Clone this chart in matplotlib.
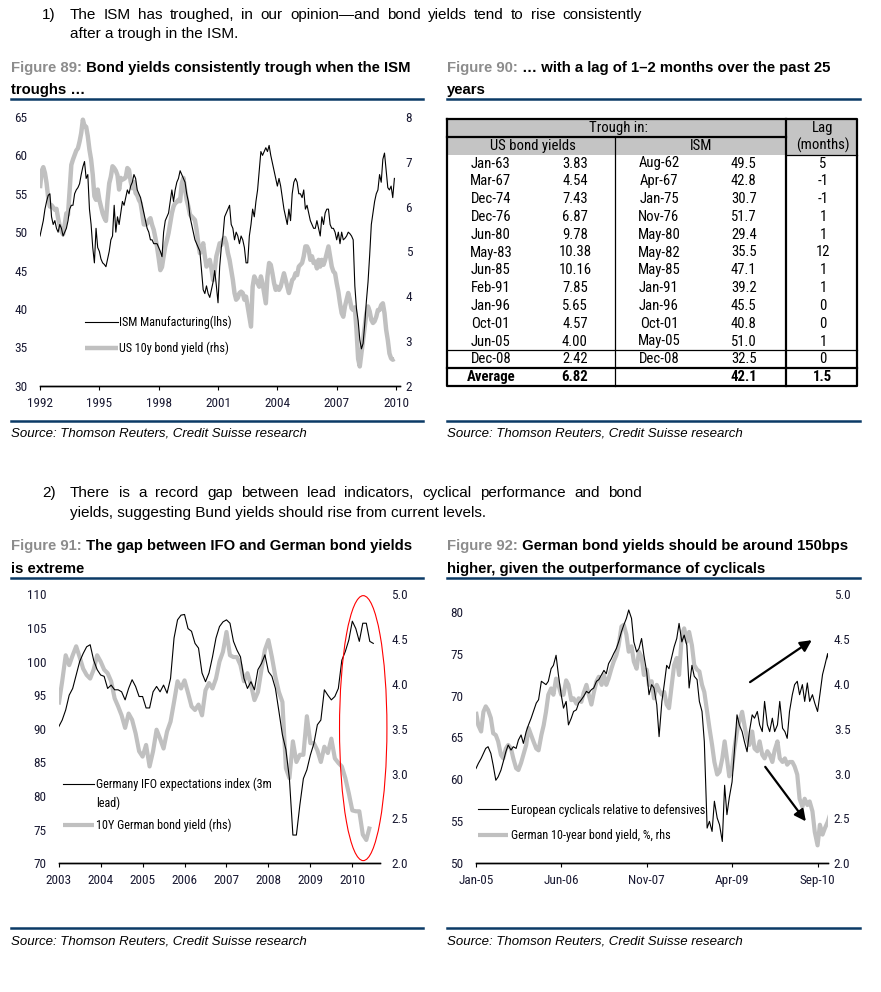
import numpy as np
import pandas as pd
import matplotlib
matplotlib.use('Agg')
import matplotlib.pyplot as plt
import matplotlib.dates as mdates
from matplotlib.patches import Ellipse, Rectangle
from matplotlib.lines import Line2D
from matplotlib import font_manager

# ---------------- data ----------------
# Figure 89: monthly from Jan-1992
ism = [49.5, 50.5, 51.5, 53.0, 54.0, 54.8, 55.0, 52.0, 51.0, 51.5, 50.5, 50.0,
       51.0, 50.5, 49.5, 50.0, 50.5, 51.5, 53.0, 53.5, 53.5, 55.0, 55.5, 55.8,
       56.3, 57.5, 58.5, 59.2, 57.0, 57.5, 53.0, 51.0, 48.0, 46.0, 50.5, 48.0,
       47.5, 46.5, 46.0, 45.8, 45.5, 46.5, 47.5, 49.0, 49.5, 53.5, 50.0, 52.0,
       51.0, 52.5, 54.0, 53.5, 54.5, 55.5, 55.0, 56.0, 56.5, 57.5, 57.0, 55.5,
       55.0, 54.5, 53.5, 52.5, 51.5, 50.5, 50.0, 49.0, 49.0, 48.5, 48.5, 48.5,
       48.0, 47.5, 46.8, 50.0, 51.5, 52.0, 52.5, 54.0, 55.5, 54.0, 55.5, 56.5,
       57.0, 58.0, 57.5, 57.0, 56.5, 55.0, 54.0, 52.0, 51.0, 50.0, 49.0, 48.5,
       48.0, 47.5, 45.0, 42.5, 42.0, 43.0, 42.0, 41.5, 42.5, 43.5, 45.0, 43.0,
       40.8, 45.5, 48.0, 49.5, 52.0, 52.5, 53.0, 53.5, 51.0, 50.5, 49.0, 50.0,
       49.5, 48.5, 49.5, 49.0, 48.0, 46.0, 46.0, 49.5, 51.0, 53.0, 52.0, 54.0,
       55.5, 58.0, 60.5, 60.0, 60.5, 61.0, 60.5, 61.3, 60.0, 59.0, 58.0, 57.0,
       56.0, 57.0, 56.0, 54.5, 53.0, 52.0, 51.0, 53.0, 51.5, 55.0, 56.5, 57.0,
       56.5, 55.0, 55.0, 54.5, 55.5, 53.0, 53.5, 52.5, 51.5, 51.0, 50.5, 50.5,
       51.5, 50.5, 49.5, 52.0, 51.0, 52.5, 53.0, 53.0, 51.0, 50.5, 50.5, 50.0,
       49.0, 50.0, 48.5, 50.0, 49.0, 49.2, 49.5, 50.0, 49.8, 49.5, 49.0, 43.0,
       40.0, 38.5, 36.0, 34.8, 35.5, 38.0, 41.0, 43.5, 47.0, 51.0, 52.5, 54.0,
       55.0, 55.5, 57.5, 56.5, 59.5, 60.3, 58.0, 55.8, 55.5, 56.0, 54.5, 57.0]
us10y = [6.41, 6.79, 6.88, 6.75, 6.52, 6.19, 6.00, 6.03, 5.98, 5.93, 5.95, 5.74,
         5.56, 5.45, 5.38, 5.60, 5.85, 5.82, 6.38, 6.93, 7.05, 7.15, 7.25, 7.30,
         7.45, 7.64, 7.94, 7.80, 7.78, 7.57, 7.27, 7.05, 6.71, 6.23, 6.15, 6.38,
         6.15, 6.00, 5.85, 5.75, 5.68, 6.15, 6.52, 6.67, 6.90, 6.86, 6.80, 6.70,
         6.38, 6.64, 6.60, 6.62, 6.65, 6.86, 6.82, 6.56, 6.41, 6.55, 6.30, 6.25,
         6.15, 6.08, 5.85, 5.60, 5.60, 5.62, 5.70, 5.74, 5.59, 5.48, 5.30, 5.10,
         4.85, 4.58, 4.65, 4.89, 5.11, 5.25, 5.41, 5.63, 5.85, 6.00, 6.08, 6.10,
         6.15, 6.12, 6.52, 6.64, 6.38, 6.15, 6.00, 5.82, 5.78, 5.74, 5.70, 5.48,
         5.18, 4.96, 5.03, 5.18, 4.89, 4.66, 4.74, 4.81, 4.62, 4.36, 4.59, 4.89,
         5.03, 5.18, 5.14, 5.26, 5.30, 5.18, 4.96, 4.81, 4.59, 4.36, 4.07, 3.92,
         3.96, 4.07, 4.10, 4.07, 3.92, 3.99, 3.77, 3.54, 3.32, 4.21, 4.44, 4.36,
         4.29, 4.21, 4.44, 4.29, 4.07, 3.84, 4.44, 4.74, 4.70, 4.51, 4.29, 4.14,
         4.21, 4.14, 4.21, 4.36, 4.51, 4.36, 4.21, 4.07, 4.21, 4.36, 4.40, 4.51,
         4.47, 4.66, 4.70, 4.74, 4.89, 5.11, 5.11, 5.03, 4.81, 4.89, 4.74, 4.77,
         4.62, 4.81, 4.66, 4.81, 4.70, 4.81, 4.96, 5.11, 4.89, 4.66, 4.55, 4.51,
         4.29, 4.10, 3.84, 3.62, 3.54, 3.77, 3.92, 4.07, 3.92, 3.73, 3.69, 3.75,
         3.25, 2.60, 2.43, 2.72, 3.02, 3.32, 3.62, 3.77, 3.66, 3.47, 3.40, 3.44,
         3.54, 3.69, 3.69, 3.80, 3.84, 3.62, 3.25, 3.02, 2.72, 2.61, 2.58, 2.60]
fig89_start = 1992
fig89_ticks = [1992, 1995, 1998, 2001, 2004, 2007, 2010]

# Figure 90 table
us_dates = ['Jan-63', 'Mar-67', 'Dec-74', 'Dec-76', 'Jun-80', 'May-83',
            'Jun-85', 'Feb-91', 'Jan-96', 'Oct-01', 'Jun-05', 'Dec-08']
us_vals = [3.83, 4.54, 7.43, 6.87, 9.78, 10.38, 10.16, 7.85, 5.65, 4.57, 4.00, 2.42]
ism_dates = ['Aug-62', 'Apr-67', 'Jan-75', 'Nov-76', 'May-80', 'May-82',
             'May-85', 'Jan-91', 'Jan-96', 'Oct-01', 'May-05', 'Dec-08']
ism_vals = [49.5, 42.8, 30.7, 51.7, 29.4, 35.5, 47.1, 39.2, 45.5, 40.8, 51.0, 32.5]
lags = [5, -1, -1, 1, 1, 12, 1, 1, 0, 0, 1, 0]
avg_us, avg_ism, avg_lag = 6.82, 42.1, 1.5

# Figure 91: monthly from Jan-2003
ifo = [90.3, 91.3, 92.8, 95.0, 96.0, 98.0, 100.0, 101.2, 102.2, 102.5, 100.2, 98.8,
       98.0, 97.8, 96.0, 96.5, 95.8, 95.8, 95.5, 94.3, 96.0, 97.3, 96.3, 94.8,
       94.8, 93.1, 93.1, 95.5, 96.3, 95.5, 96.5, 95.3, 97.5, 103.5, 106.2, 106.9,
       107.0, 104.9, 104.5, 102.7, 102.0, 98.3, 97.0, 98.3, 100.7, 103.5, 105.2, 105.9,
       106.2, 105.7, 103.0, 101.7, 100.7, 97.5, 96.0, 97.0, 95.8, 98.8, 99.7, 101.0,
       98.5, 97.8, 96.0, 92.6, 89.1, 86.9, 82.6, 74.2, 74.2, 78.7, 82.6, 83.9,
       86.1, 87.8, 90.6, 91.3, 95.8, 95.0, 94.3, 94.8, 96.0, 100.2, 101.5, 103.2,
       106.0, 104.9, 103.0, 105.7, 105.7, 103.0, 102.7]
bund91 = [3.77, 4.03, 4.32, 4.21, 4.32, 4.42, 4.30, 4.17, 4.10, 4.06, 4.16, 4.32,
          4.25, 4.16, 4.12, 4.03, 3.84, 3.75, 3.65, 3.51, 3.67, 3.60, 3.45, 3.25,
          3.19, 3.32, 3.08, 3.25, 3.49, 3.39, 3.28, 3.47, 3.58, 3.80, 4.03, 3.95,
          4.04, 3.90, 3.75, 3.71, 3.77, 3.65, 3.93, 4.01, 3.95, 4.06, 4.25, 4.36,
          4.58, 4.32, 4.30, 4.30, 4.21, 4.03, 4.12, 3.99, 3.82, 3.91, 4.16, 4.38,
          4.49, 4.30, 4.08, 3.91, 3.80, 3.06, 2.95, 3.36, 3.13, 3.21, 3.21, 3.64,
          3.34, 3.34, 3.26, 3.13, 3.30, 3.23, 3.39, 3.17, 3.12, 3.08, 2.95, 2.78,
          2.59, 2.58, 2.58, 2.32, 2.26, 2.41]
fig91_start = 2003
fig91_ticks = list(range(2003, 2011))
oval_center = (2010.26, 90.1)   # red ring, left-axis units
oval_size = (1.13, 39.4)

# Figure 92: twice a month from Jan-2005
cyc = [61.3, 61.9, 62.5, 63.1, 63.7, 63.9, 63.1, 61.7, 59.9, 60.3,
       61.1, 62.1, 63.3, 64.1, 63.5, 63.9, 63.7, 64.7, 65.3, 64.3,
       65.7, 66.5, 67.3, 68.1, 69.1, 69.5, 71.7, 71.5, 71.3, 71.7,
       73.2, 73.6, 74.8, 72.5, 70.1, 68.5, 69.3, 66.5, 67.3, 68.1,
       68.3, 69.1, 69.5, 69.9, 70.5, 70.3, 70.7, 70.9, 71.7, 71.9,
       72.5, 73.0, 72.6, 73.8, 74.4, 75.0, 75.6, 76.4, 77.6, 78.4,
       79.2, 80.2, 79.2, 76.4, 75.2, 75.6, 76.8, 74.8, 72.8, 70.1,
       71.3, 70.9, 68.9, 65.1, 69.3, 71.3, 73.6, 73.2, 74.6, 75.8,
       76.8, 78.6, 76.4, 77.2, 76.0, 70.9, 73.6, 72.3, 71.9, 69.3,
       68.1, 64.5, 54.2, 55.0, 53.8, 57.4, 55.4, 54.6, 52.6, 59.3,
       55.8, 57.8, 59.7, 63.3, 67.7, 66.5, 65.7, 64.5, 63.3, 65.7,
       67.7, 67.3, 68.1, 66.5, 65.7, 69.3, 66.5, 65.7, 67.3, 65.7,
       66.5, 69.3, 66.1, 65.7, 64.9, 68.1, 70.1, 71.3, 71.7, 70.1,
       71.3, 69.3, 71.5, 69.3, 70.1, 69.1, 68.1, 70.1, 72.5, 73.6,
       75.0, 73.0]
bund92 = [3.69, 3.54, 3.47, 3.69, 3.75, 3.71, 3.62, 3.45, 3.43, 3.36,
          3.21, 3.17, 3.28, 3.32, 3.28, 3.17, 3.06, 3.04, 3.12, 3.21,
          3.32, 3.51, 3.43, 3.36, 3.28, 3.26, 3.43, 3.54, 3.69, 3.88,
          3.95, 3.88, 4.06, 3.99, 3.88, 3.88, 4.04, 3.99, 3.82, 3.84,
          3.78, 3.84, 3.80, 3.90, 3.99, 3.88, 3.77, 3.90, 4.03, 4.08,
          3.99, 4.10, 3.99, 4.06, 4.17, 4.25, 4.32, 4.43, 4.64, 4.66,
          4.55, 4.36, 4.42, 4.25, 4.17, 4.36, 4.30, 4.10, 4.16, 3.99,
          4.03, 3.84, 3.99, 3.93, 3.88, 3.91, 3.77, 3.73, 3.99, 4.21,
          4.29, 4.10, 4.55, 4.62, 4.47, 4.58, 4.43, 4.21, 4.16, 4.14,
          3.99, 3.91, 3.69, 3.51, 3.32, 3.13, 2.99, 3.02, 3.17, 3.36,
          3.17, 2.97, 3.06, 3.28, 3.47, 3.58, 3.69, 3.54, 3.39, 3.32,
          3.47, 3.28, 3.25, 3.36, 3.21, 3.17, 3.25, 3.21, 3.13, 3.26,
          3.36, 3.17, 3.13, 3.17, 3.10, 3.13, 3.13, 3.08, 2.99, 2.72,
          2.63, 2.72, 2.65, 2.69, 2.58, 2.35, 2.20, 2.43, 2.32, 2.39,
          2.46, 2.54]
fig92_start = '2005-01-01'
fig92_ticks = ['2005-01-01', '2006-06-01', '2007-11-01', '2009-04-01', '2010-09-01']
arrow_up = (('2009-07-19', 71.6), ('2010-07-28', 76.6))
arrow_down = (('2009-10-19', 61.5), ('2010-06-22', 55.0))

# ---------------- style ----------------
plt.rcParams['font.family'] = ['Liberation Sans', 'DejaVu Sans']


def pick_narrow():
    entries = font_manager.fontManager.ttflist
    names = {f.name for f in entries}
    for n in ['Liberation Sans Narrow', 'Arial Narrow', 'Roboto Condensed',
              'Open Sans Condensed', 'Noto Sans Condensed', 'DejaVu Sans Condensed']:
        if n in names:
            return dict(family=n), 1.0
    return dict(family='Liberation Sans'), 0.86


NARROW_KW, NARROW_SCALE = pick_narrow()
NAVY = '#0b3a66'
FIGNUM = '#8c8c8c'
GREY = '#c0c0c0'
TICKC = '#1a1a33'


def small(size=9, **kw):
    d = dict(NARROW_KW)
    d.update(kw)
    return font_manager.FontProperties(size=size * NARROW_SCALE, **d)


W, H = 881, 992
fig = plt.figure(figsize=(W / 100, H / 100), dpi=100)
R = fig.canvas.get_renderer()


def box(x0, y0, x1, y1):
    return [x0 / W, 1 - y1 / H, (x1 - x0) / W, (y1 - y0) / H]


def ftext(x, y, s, **kw):
    return fig.text(x / W, 1 - y / H, s, va='center', **kw)


def justified(x0, x1, y, s, **kw):
    words = s.split()
    ts = [ftext(0, y, w, **kw) for w in words]
    ws = [t.get_window_extent(R).width for t in ts]
    gap = (x1 - x0 - sum(ws)) / (len(words) - 1)
    x = x0
    for t, w in zip(ts, ws):
        t.set_x(x / W)
        x += w + gap


def heading(x, x_end, y1, y2, num, l1, l2):
    t = ftext(x, y1, 'Figure %d:' % num, color=FIGNUM, fontsize=10.7, fontweight='bold')
    bb = t.get_window_extent(R)
    fig.text(bb.x1 / W, 1 - y1 / H, ' ' + l1, va='center', fontsize=10.7, fontweight='bold')
    ftext(x, y2, l2, fontsize=10.7, fontweight='bold')
    fig.add_artist(Line2D([x / W, x_end / W], [1 - (y2 + 9) / H] * 2, color=NAVY, lw=1.8))


def source(x, x_end, y):
    fig.add_artist(Line2D([x / W, x_end / W], [1 - y / H] * 2, color=NAVY, lw=1.8))
    ftext(x, y + 13, 'Source: Thomson Reuters, Credit Suisse research', fontsize=9.5, style='italic')


def style_axes(ax, axr, lpad, rpad):
    for a in (ax, axr):
        for s in ('top', 'left', 'right'):
            a.spines[s].set_visible(False)
        a.spines['bottom'].set_linewidth(1.0)
    ax.tick_params(axis='y', length=0, pad=lpad, labelcolor=TICKC)
    axr.tick_params(axis='y', length=0, pad=rpad, labelcolor=TICKC)
    ax.tick_params(axis='x', direction='out', length=3, width=0.8, pad=5, labelcolor=TICKC)
    for a in (ax, axr):
        for lab in a.get_xticklabels() + a.get_yticklabels():
            lab.set_fontproperties(small(9.5))
    ax.set_zorder(axr.get_zorder() + 1)
    ax.patch.set_visible(False)


# ---------------- page text ----------------
BODY = 11.0
ftext(42, 15, '1)', fontsize=BODY)
justified(70, 642, 15, 'The ISM has troughed, in our opinion\u2014and bond yields tend to rise consistently', fontsize=BODY)
ftext(70, 34, 'after a trough in the ISM.', fontsize=BODY)
ftext(42, 493, '2)', fontsize=BODY)
justified(70, 642, 493, 'There is a record gap between lead indicators, cyclical performance and bond', fontsize=BODY)
ftext(70, 513, 'yields, suggesting Bund yields should rise from current levels.', fontsize=BODY)

heading(11, 423, 68, 90, 89, 'Bond yields consistently trough when the ISM', 'troughs \u2026')
heading(447, 860, 68, 90, 90, '\u2026 with a lag of 1\u20132 months over the past 25', 'years')
heading(11, 423, 546, 569, 91, 'The gap between IFO and German bond yields', 'is extreme')
heading(447, 860, 546, 569, 92, 'German bond yields should be around 150bps',
        'higher, given the outperformance of cyclicals')
source(11, 423, 421)
source(447, 860, 421)
source(11, 423, 928)
source(447, 860, 928)

LEG = 8.7

# ---------------- Figure 89 ----------------
ax1 = fig.add_axes(box(40, 117, 400, 385.7))
ax1r = ax1.twinx()
x89 = fig89_start + np.arange(len(ism)) / 12
x89b = fig89_start + np.arange(len(us10y)) / 12
l1, = ax1.plot(x89, ism, color='black', lw=0.8)
l2, = ax1r.plot(x89b, us10y, color=GREY, lw=3.2, solid_capstyle='butt')
ax1.set_xlim(1992, 2010.2)
ax1.set_ylim(30, 65)
ax1r.set_ylim(2, 8)
ax1.set_xticks(fig89_ticks)
ax1.set_yticks(range(30, 66, 5))
ax1r.set_yticks(range(2, 9))
style_axes(ax1, ax1r, 9, 4)
ax1.legend([l1, l2], ['ISM Manufacturing(lhs)', 'US 10y bond yield (rhs)'], loc='lower left',
           bbox_to_anchor=(0.125, 0.115), frameon=False, prop=small(LEG), handlelength=2.7,
           handletextpad=0.15, labelspacing=1.0, borderpad=0, borderaxespad=0)

# ---------------- Figure 90 (table) ----------------
axt = fig.add_axes(box(447, 119, 857, 386))
axt.set_xlim(0, 1)
axt.set_ylim(15, 0)
axt.axis('off')
c_div1, c_div2 = 0.41, 0.827
cols = [0.107, 0.312, 0.517, 0.724, 0.917]
axt.add_patch(Rectangle((0, 0), 1, 2, color='#c4c4c4', lw=0))
TF = dict(ha='center', va='center')
tp = small(10.6)
tb = small(10.6, weight='bold')
axt.text(0.417, 0.5, 'Trough in:', fontproperties=tp, **TF)
axt.text(0.21, 1.5, 'US bond yields', fontproperties=tp, **TF)
axt.text(0.62, 1.5, 'ISM', fontproperties=tp, **TF)
axt.text(cols[4], 0.5, 'Lag', fontproperties=tp, **TF)
axt.text(cols[4], 1.5, '(months)', fontproperties=tp, **TF)
for i in range(len(us_dates)):
    y = 2.5 + i
    axt.text(cols[0], y, us_dates[i], fontproperties=tp, **TF)
    axt.text(cols[1], y, '%.2f' % us_vals[i], fontproperties=tp, **TF)
    axt.text(cols[2], y, ism_dates[i], fontproperties=tp, **TF)
    axt.text(cols[3], y, '%.1f' % ism_vals[i], fontproperties=tp, **TF)
    axt.text(cols[4], y, '%d' % lags[i], fontproperties=tp, **TF)
ya = 2.5 + len(us_dates)
axt.text(cols[0], ya, 'Average', fontproperties=tb, **TF)
axt.text(cols[1], ya, '%.2f' % avg_us, fontproperties=tb, **TF)
axt.text(cols[3], ya, '%.1f' % avg_ism, fontproperties=tb, **TF)
axt.text(cols[4], ya, '%.1f' % avg_lag, fontproperties=tb, **TF)
thick, thin = 1.6, 0.9
axt.plot([0, 1, 1, 0, 0], [0, 0, 15, 15, 0], color='black', lw=thick, clip_on=False)
axt.plot([0, c_div2], [1, 1], color='black', lw=thick, clip_on=False)
axt.plot([c_div2, c_div2], [0, 15], color='black', lw=thick, clip_on=False)
axt.plot([c_div1, c_div1], [1, 15], color='black', lw=thin, clip_on=False)
axt.plot([c_div2, 1], [2, 2], color='black', lw=thin, clip_on=False)
axt.plot([0, 1], [13, 13], color='black', lw=thin, clip_on=False)
axt.plot([0, 1], [14, 14], color='black', lw=thick, clip_on=False)

# ---------------- Figure 91 ----------------
ax3 = fig.add_axes(box(58.7, 594.3, 380, 863.3))
ax3r = ax3.twinx()
x91 = fig91_start + np.arange(len(ifo)) / 12
x91b = fig91_start + np.arange(len(bund91)) / 12
k1, = ax3.plot(x91, ifo, color='black', lw=0.8)
k2, = ax3r.plot(x91b, bund91, color=GREY, lw=3.0, solid_capstyle='butt')
ax3.set_xlim(2003, 2010.66)
ax3.set_ylim(70, 110)
ax3r.set_ylim(2.0, 5.0)
ax3.set_xticks(fig91_ticks)
ax3.set_yticks(range(70, 111, 5))
ax3r.set_yticks(np.arange(2.0, 5.01, 0.5))
ax3r.yaxis.set_major_formatter(matplotlib.ticker.FormatStrFormatter('%.1f'))
style_axes(ax3, ax3r, 9, 8)
ax3.add_patch(Ellipse(oval_center, oval_size[0], oval_size[1], fill=False,
                      ec='red', lw=0.8, clip_on=False, zorder=5))
ax3.legend([k1, k2], ['Germany IFO expectations index (3m', '10Y German bond yield (rhs)'],
           loc='lower left', bbox_to_anchor=(0.012, 0.115), frameon=False, prop=small(LEG),
           handlelength=2.6, handletextpad=0.2, labelspacing=2.3, borderpad=0, borderaxespad=0)
ftext(96, 803, 'lead)', fontproperties=small(LEG))

# ---------------- Figure 92 ----------------
ax4 = fig.add_axes(box(476, 594.3, 828.3, 863.3))
ax4r = ax4.twinx()
d92 = pd.date_range(fig92_start, periods=len(cyc), freq='SMS')
d92b = pd.date_range(fig92_start, periods=len(bund92), freq='SMS')
m1, = ax4.plot(d92, cyc, color='black', lw=0.8)
m2, = ax4r.plot(d92b, bund92, color=GREY, lw=3.0, solid_capstyle='butt')
ax4.set_xlim(pd.Timestamp('2005-01-01'), pd.Timestamp('2010-11-05'))
ax4.set_ylim(50, 82.07)
ax4r.set_ylim(2.0, 5.0)
ax4.set_xticks(pd.to_datetime(fig92_ticks))
ax4.xaxis.set_major_formatter(mdates.DateFormatter('%b-%y'))
ax4.set_yticks(range(50, 81, 5))
ax4r.set_yticks(np.arange(2.0, 5.01, 0.5))
ax4r.yaxis.set_major_formatter(matplotlib.ticker.FormatStrFormatter('%.1f'))
style_axes(ax4, ax4r, 9, 4)
for (s0, y0), (s1, y1) in (arrow_up, arrow_down):
    ax4.annotate('', xy=(pd.Timestamp(s1), y1), xytext=(pd.Timestamp(s0), y0),
                 arrowprops=dict(arrowstyle='-|>', color='black', lw=1.6, mutation_scale=17,
                                 shrinkA=0, shrinkB=0))
ax4.legend([m1, m2], ['European cyclicals relative to defensives', 'German 10-year bond yield, %, rhs'],
           loc='lower left', bbox_to_anchor=(0.006, 0.08), frameon=False, prop=small(LEG),
           handlelength=2.5, handletextpad=0.2, labelspacing=1.0, borderpad=0, borderaxespad=0)

fig.savefig('out.png', dpi=100)
